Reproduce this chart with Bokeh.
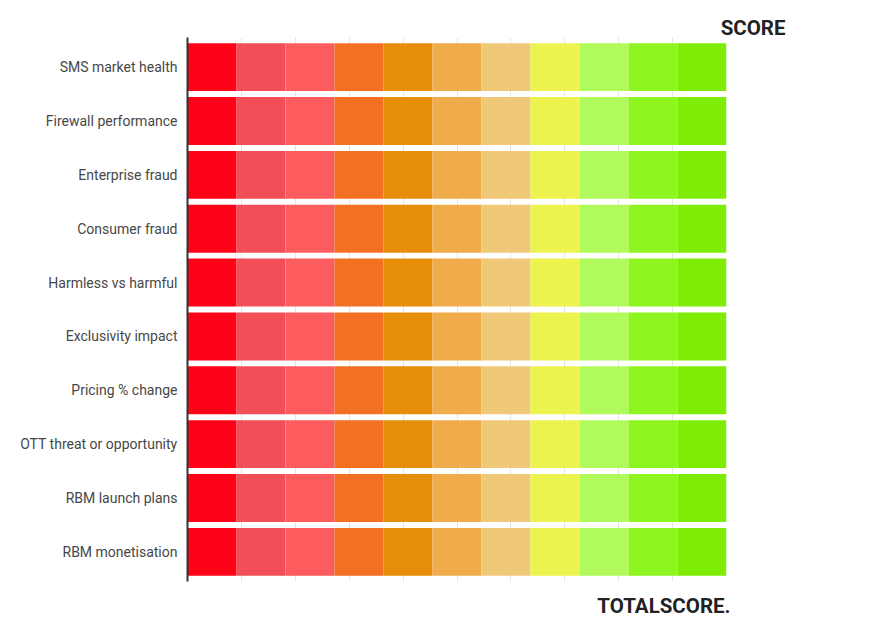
from bokeh.plotting import figure
from bokeh.models import FactorRange, Range1d, Title, SingleIntervalTicker, ColumnDataSource
from bokeh.embed import file_html
from bokeh.resources import INLINE

categories = [
    "SMS market health",
    "Firewall performance",
    "Enterprise fraud",
    "Consumer fraud",
    "Harmless vs harmful",
    "Exclusivity impact",
    "Pricing % change",
    "OTT threat or opportunity",
    "RBM launch plans",
    "RBM monetisation",
]

band_keys = ["b0", "b1", "b2", "b3", "b4", "b5", "b6", "b7", "b8", "b9", "b10"]
band_values = [9.09, 9.09, 9.09, 9.09, 9.09, 9.09, 9.09, 9.09, 9.09, 9.09, 9.1]
band_colors = ["#fe0317", "#f14e58", "#fd5c5e", "#f27022", "#e68e0a", "#f0ac4a",
               "#f0c978", "#ecf34e", "#b0fa5c", "#8ff520", "#7fec05"]

top_title = "SCORE"
bottom_title = "TOTALSCORE."

data = {"category": categories}
for key, v in zip(band_keys, band_values):
    data[key] = [v for _ in categories]
src = ColumnDataSource(data)

p = figure(width=860, height=629,
           y_range=FactorRange(factors=categories[::-1], range_padding=0.01),
           x_range=Range1d(0, 100),
           output_backend="svg", toolbar_location=None,
           min_border_left=187, min_border_right=134,
           min_border_top=37, min_border_bottom=48)

p.hbar_stack(band_keys, y="category", height=0.89, color=band_colors,
             source=src, line_color=None)

p.outline_line_color = None
p.xaxis.visible = False
p.xgrid[0].ticker = SingleIntervalTicker(interval=10)
p.xgrid.grid_line_color = "#e3e3e3"
p.xgrid.grid_line_width = 1
p.ygrid.visible = False

p.yaxis.axis_line_color = "#333333"
p.yaxis.axis_line_width = 2
p.yaxis.major_tick_line_color = None
p.yaxis.minor_tick_line_color = None
p.yaxis.major_tick_out = 0
p.yaxis.major_tick_in = 0
p.yaxis.major_label_standoff = 10
p.yaxis.major_label_text_font = "Roboto"
p.yaxis.major_label_text_font_size = "14px"
p.yaxis.major_label_text_color = "#474747"

p.title = Title(text=top_title, align="right", offset=-59, standoff=-5,
                text_font="Roboto", text_font_style="bold",
                text_font_size="20.5px", text_color="#222222")
p.add_layout(Title(text=bottom_title, align="right", offset=-4, standoff=21,
                   text_font="Roboto", text_font_style="bold",
                   text_font_size="20.5px", text_color="#222222"), "below")

open("out.html", "w").write(file_html(p, INLINE))
